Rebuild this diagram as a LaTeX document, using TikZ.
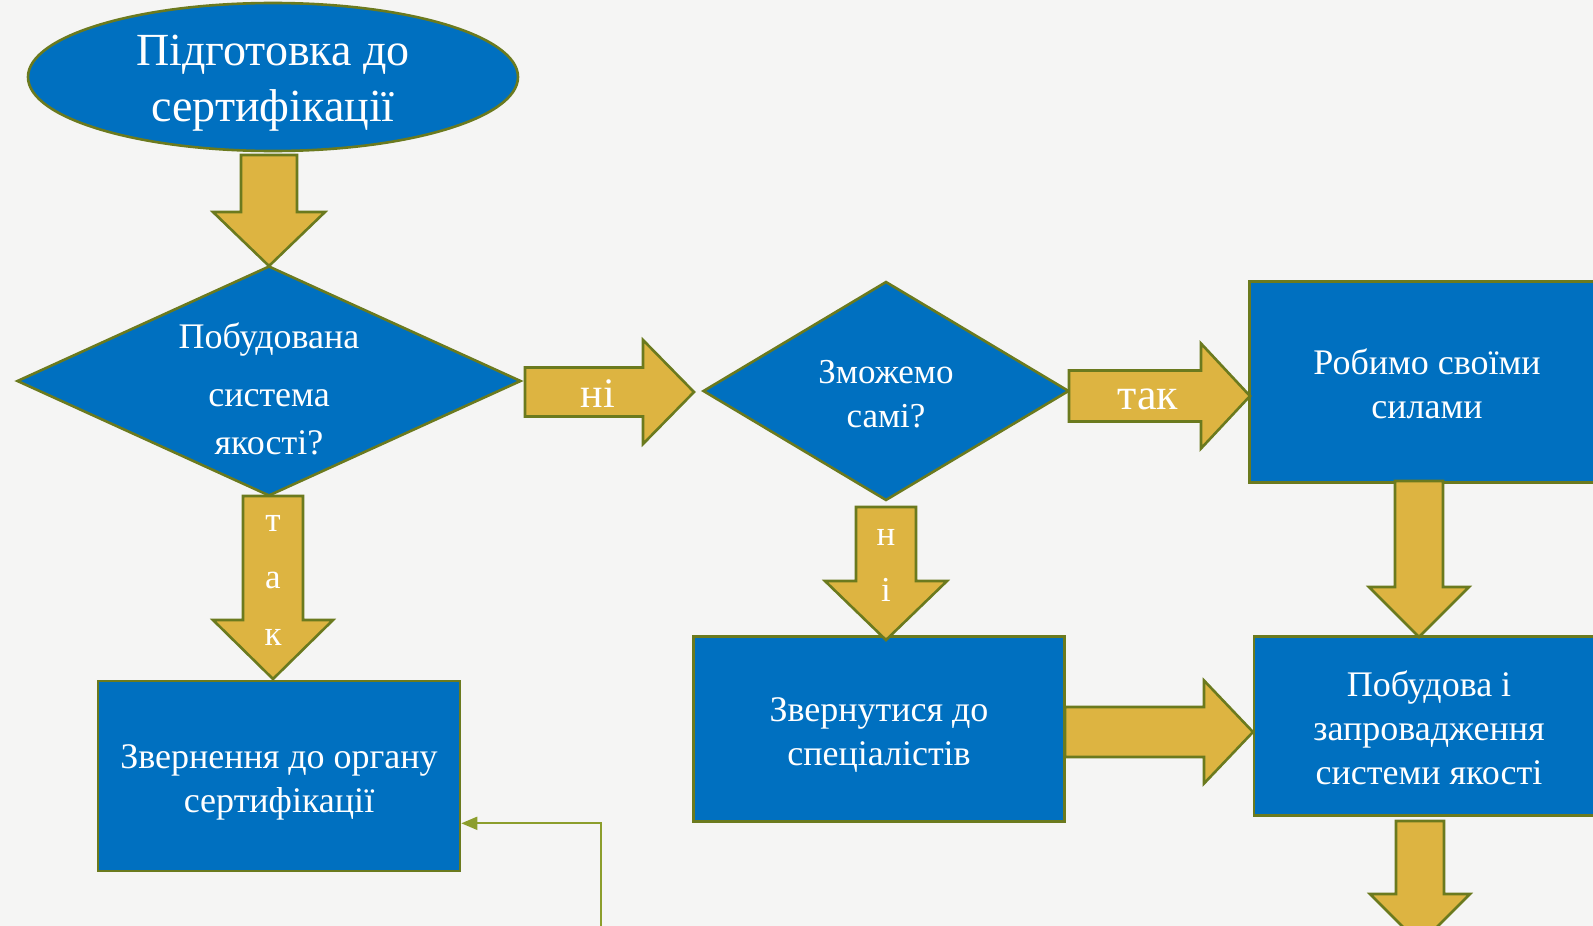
\documentclass[tikz,border=0pt]{standalone}
\usepackage{fontspec}
\setmainfont{Liberation Serif}
\usetikzlibrary{shapes.geometric,arrows.meta}
\definecolor{bgc}{HTML}{F5F5F4}
\definecolor{bluef}{HTML}{0070C0}
\definecolor{olived}{HTML}{6B7A1E}
\definecolor{olivel}{HTML}{8C9E2C}
\definecolor{goldf}{HTML}{DDB441}
\newcommand{\zbox}[2][0pt]{\smash{\makebox[0pt]{\raisebox{#1}{\begin{tabular}{@{}c@{}}#2\end{tabular}}}}}
% down block arrow: name, cx, ytop, yhead, ytip, shaft half, head half
\newcommand{\downblk}[7]{%
  \draw[blk] (#2-#6,#3) -- (#2+#6,#3) -- (#2+#6,#4) -- (#2+#7,#4) -- (#2,#5)
    coordinate (#1tip) -- (#2-#7,#4) -- (#2-#6,#4) -- cycle;
  \coordinate (#1) at (#2,{(#3+#4)/2});}
% right block arrow: name, xleft, xhead, xtip, cy, shaft half, head half
\newcommand{\rightblk}[7]{%
  \draw[blk] (#2,#5-#6) -- (#3,#5-#6) -- (#3,#5-#7) -- (#4,#5) coordinate (#1tip)
    -- (#3,#5+#7) -- (#3,#5+#6) -- (#2,#5+#6) -- cycle;
  \coordinate (#1) at ({(#2+#3)/2},#5);}
\tikzset{
  blk/.style={fill=goldf, draw=olived, line width=2.6pt, line join=miter},
  shp/.style={fill=bluef, draw=olived, line width=2.6pt, text=white, inner sep=0pt, align=center},
  boxs/.style={shp, rectangle, font=\fontsize{36}{44}\selectfont},
  dias/.style={shp, diamond, font=\fontsize{36}{52}\selectfont},
  lbl/.style={text=white, inner sep=0pt, align=center},
}
\begin{document}
\begin{tikzpicture}[x=1pt,y=-1pt]
\useasboundingbox (0,0) rectangle (1593,926);
\fill[bgc] (0,0) rectangle (1593,926);
% shapes
\node[shp, ellipse, minimum width=490pt, minimum height=148pt, font=\fontsize{46}{58}\selectfont] (start) at (273,77) {\zbox[-11pt]{Підготовка до\\[-2pt]сертифікації}};
\node[dias, minimum width=504pt, minimum height=230pt] (d1) at (269,381) {\zbox[-16pt]{Побудована\\[6pt]система\\[-4pt]якості?}};
\node[dias, minimum width=366pt, minimum height=219pt, font=\fontsize{35}{44}\selectfont] (d2) at (886,391) {\zbox[-12pt]{Зможемо\\самі?}};
\node[boxs, minimum width=355pt, minimum height=201pt] (own) at (1427,382) {\zbox[-12pt]{Робимо своїми\\силами}};
\node[boxs, minimum width=350pt, minimum height=179pt] (build) at (1429,726) {\zbox[-12pt]{Побудова і\\запровадження\\системи якості}};
\node[boxs, minimum width=371pt, minimum height=185pt] (spec) at (879,729) {\zbox[-11.5pt]{Звернутися до\\спеціалістів}};
\node[boxs, minimum width=362pt, minimum height=190pt] (cert) at (279,776) {\zbox[-12pt]{Звернення до органу\\сертифікації}};
% block arrows
\downblk{a1}{269}{155}{212}{266}{28}{56}
\downblk{a2}{273}{496}{620}{679}{30}{60}
\downblk{a3}{886}{507}{581}{640}{30}{61}
\downblk{a4}{1419}{481}{587}{637}{24}{50}
\downblk{a5}{1420}{821}{894}{944}{24}{50}
\rightblk{r1}{525}{643}{694}{392}{24.5}{52}
\rightblk{r2}{1069}{1201}{1250}{396}{25.5}{52.5}
\rightblk{r3}{1065}{1204}{1253}{732}{25}{51.5}
% arrow labels
\node[lbl, font=\fontsize{42}{42}\selectfont] (lr1) at (598,394) {ні};
\node[lbl, font=\fontsize{44}{44}\selectfont] (lr2) at (1148,399) {так};
\node[lbl, font=\fontsize{35}{57}\selectfont] (la2) at (273,580) {т\\а\\к};
\node[lbl, font=\fontsize{35}{56}\selectfont] (la3) at (886,565) {н\\і};
% thin connector
\coordinate (c1) at (601,940);
\draw[olivel, line width=1.8pt, -{Triangle[length=16pt,width=13pt]}] (c1) |- ([yshift=49pt]cert.south east);
\end{tikzpicture}
\end{document}
